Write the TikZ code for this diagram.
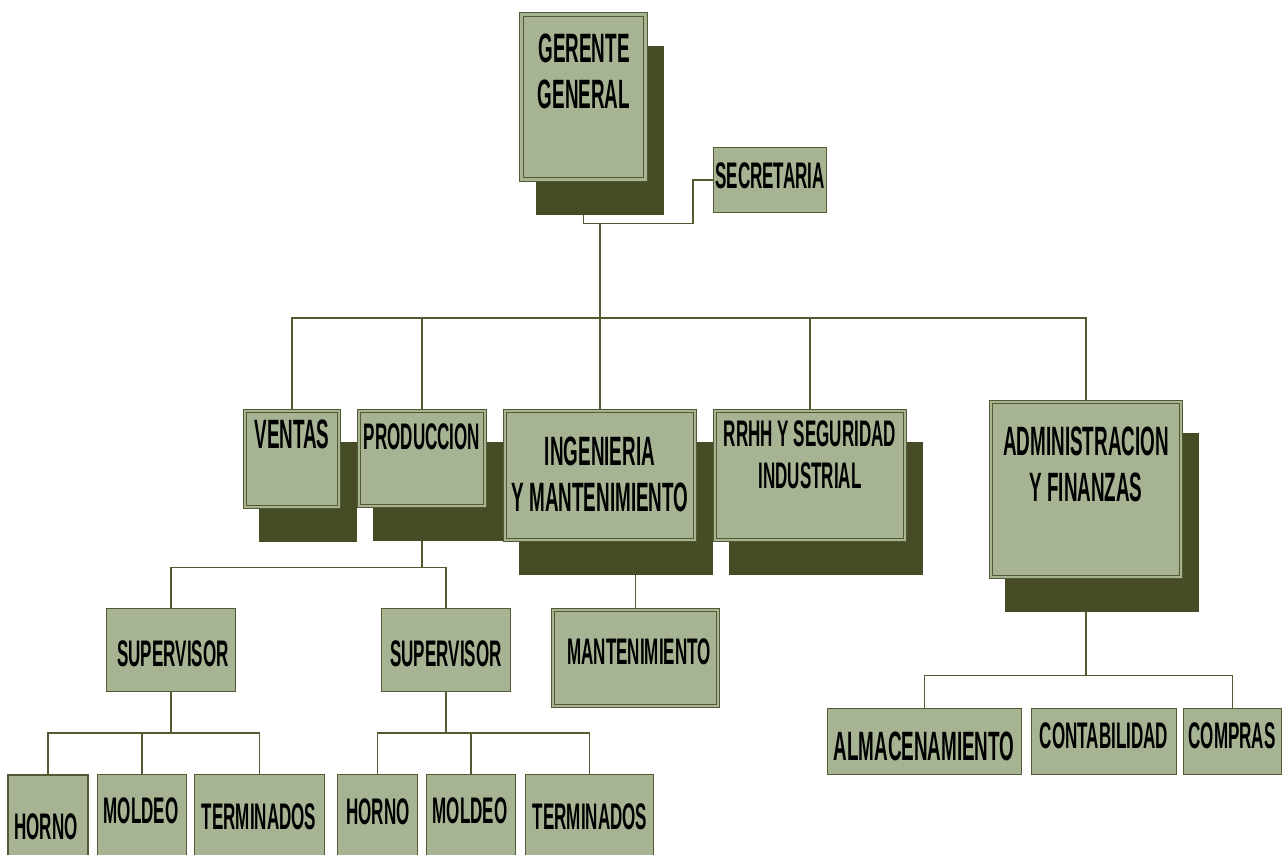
\documentclass[tikz,border=0pt]{standalone}
\usepackage{fontspec}
\newfontfamily\orgfont{Liberation Sans Bold}[FakeStretch=0.46]
\usetikzlibrary{shadows,backgrounds}
\definecolor{sage}{HTML}{A6B493}
\definecolor{darkolive}{HTML}{464D26}
\definecolor{boxline}{HTML}{535A32}

\begin{document}
\begin{tikzpicture}[x=1pt,y=-1pt,
box/.style = {draw=boxline, fill=sage, line width=1.2pt, inner sep=0pt},
framed/.style = {box, line width=1pt, double=sage, double distance=2pt},
shadowed/.style = {general shadow={fill=darkolive, draw=darkolive, line width=4pt,
  shadow xshift=16pt, shadow yshift=-33pt}},
lbl/.style = {font=\orgfont\fontsize{37}{42}\selectfont, align=center, inner sep=0pt, anchor=north},
lblbig/.style = {lbl, font=\orgfont\fontsize{41}{46}\selectfont},
conn/.style = {draw=boxline, line width=1.3pt}]
\useasboundingbox (0,0) rectangle (1284,854);

\node[framed, double distance=3pt, shadowed, minimum width=124pt, minimum height=165pt] (g) at (583.5,97) {};
\node[box, minimum width=113pt, minimum height=65pt] (sec) at (770,180) {};
\node[framed, shadowed, minimum width=94pt, minimum height=96pt] (ven) at (292,459) {};
\node[framed, shadowed, minimum width=126pt, minimum height=95pt] (prod) at (422,458.5) {};
\node[framed, shadowed, minimum width=190pt, minimum height=129pt] (ing) at (600,475.5) {};
\node[framed, shadowed, minimum width=190pt, minimum height=129pt] (rrhh) at (810,475.5) {};
\node[framed, shadowed, minimum width=190pt, minimum height=175pt] (adm) at (1086,489.5) {};
\node[framed, minimum width=165pt, minimum height=96pt] (mant) at (635.5,658) {};
\node[box, minimum width=129pt, minimum height=83pt] (sup1) at (171,650) {};
\node[box, minimum width=129pt, minimum height=83pt] (sup2) at (446,650) {};
\node[box, minimum width=80pt, minimum height=95pt] (hor1) at (48,822.5) {};
\node[box, minimum width=89pt, minimum height=95pt] (mol1) at (142,822) {};
\node[box, minimum width=130pt, minimum height=95pt] (ter1) at (259.5,822) {};
\node[box, minimum width=80pt, minimum height=95pt] (hor2) at (377.5,822) {};
\node[box, minimum width=89pt, minimum height=95pt] (mol2) at (471,822) {};
\node[box, minimum width=128pt, minimum height=95pt] (ter2) at (589.5,822) {};
\node[box, minimum width=194pt, minimum height=66pt] (alm) at (924.5,741.5) {};
\node[box, minimum width=145pt, minimum height=66pt] (con) at (1104,741.5) {};
\node[box, minimum width=98pt, minimum height=66pt] (com) at (1232.5,741.5) {};

\node[lblbig] (gl) at (584,34) {GERENTE\\GENERAL};
\node[lbl] (secl) at (770,162) {SECRETARIA};
\node[lblbig] (venl) at (292,420) {VENTAS};
\node[lbl] (prodl) at (422,423) {PRODUCCION};
\node[lblbig] (ingl) at (600,437) {INGENIERIA\\Y MANTENIMIENTO};
\node[lbl] (rrhhl) at (810,420) {RRHH Y SEGURIDAD\\INDUSTRIAL};
\node[lblbig] (adml) at (1086,427) {ADMINISTRACION\\Y FINANZAS};
\node[lbl] (mantl) at (639,638) {MANTENIMIENTO};
\node[lbl] (sup1l) at (173,640) {SUPERVISOR};
\node[lbl] (sup2l) at (446,640) {SUPERVISOR};
\node[lbl] (hor1l) at (46,813) {HORNO};
\node[lbl] (mol1l) at (141,797) {MOLDEO};
\node[lbl] (ter1l) at (259,803) {TERMINADOS};
\node[lbl] (hor2l) at (378,798) {HORNO};
\node[lbl] (mol2l) at (470,797) {MOLDEO};
\node[lbl] (ter2l) at (590,803) {TERMINADOS};
\node[lblbig] (alml) at (924,732) {ALMACENAMIENTO};
\node[lbl] (conl) at (1104,722) {CONTABILIDAD};
\node[lbl] (coml) at (1232,722) {COMPRAS};

\begin{scope}[on background layer]
\fill[white] (0,0) rectangle (1284,854);
\coordinate (bus) at (600,318);
\draw[conn] (g.south) -- ++(0,43.5) coordinate (gj) -| ([xshift=-20pt]sec.west) -- (sec.west);
\draw[conn] (gj -| ing.north) -- (ing.north);
\draw[conn] (ven.north) |- (bus) -| (adm.north);
\draw[conn] (prod.north) -- (prod.north |- bus);
\draw[conn] (rrhh.north) -- (rrhh.north |- bus);
\draw[conn] (prod.south) -- ++(0,61) coordinate (pj);
\draw[conn] (sup1.north) |- (pj) -| (sup2.north);
\draw[conn] (mant.north) -- (mant.north |- ing.south);
\draw[conn] (sup1.south) -- ++(0,41) coordinate (sj1);
\draw[conn] (hor1.north) |- (sj1) -| (ter1.north);
\draw[conn] (mol1.north) -- (mol1.north |- sj1);
\draw[conn] (sup2.south) -- ++(0,41) coordinate (sj2);
\draw[conn] (hor2.north) |- (sj2) -| (ter2.north);
\draw[conn] (mol2.north) -- (mol2.north |- sj2);
\draw[conn] (adm.south) -- ++(0,98) coordinate (aj);
\draw[conn] (alm.north) |- (aj) -| (com.north);
\end{scope}
\end{tikzpicture}
\end{document}
